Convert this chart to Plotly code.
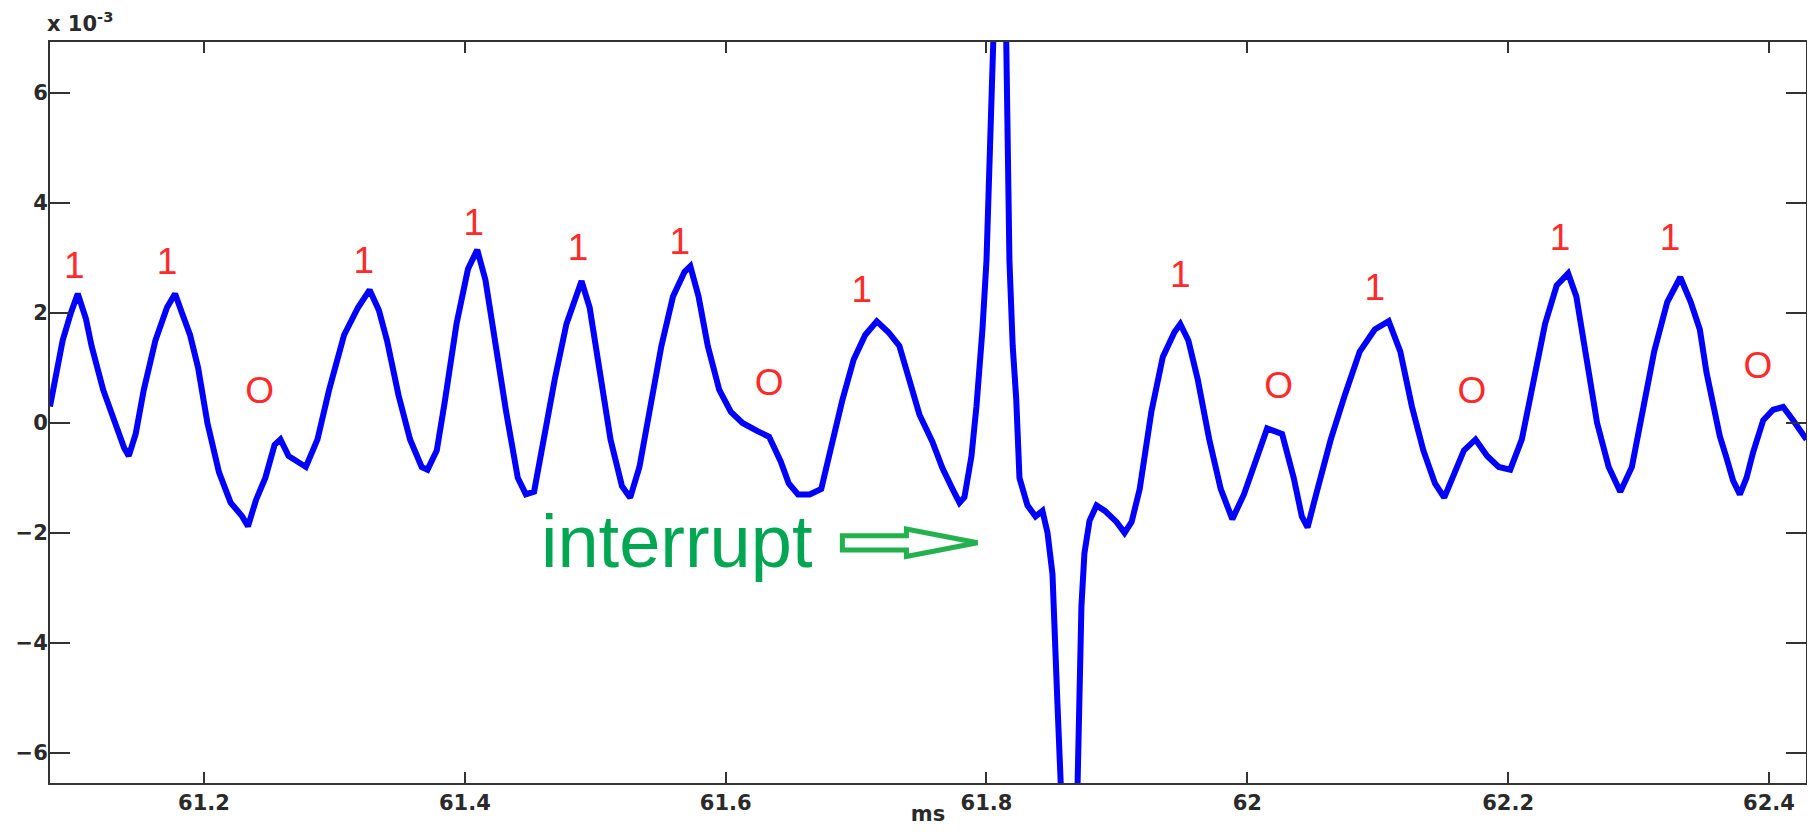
import plotly.graph_objects as go

# ---- data (time in ms, signal in units of 1e-3) ----
time_ms = [
    61.0819, 61.0872, 61.0916, 61.0979, 61.1032, 61.1094, 61.1138, 61.1227, 61.1316, 61.1387,
    61.1423, 61.1476, 61.1538, 61.1627, 61.1716, 61.1778, 61.1831, 61.1893, 61.1955, 61.2026,
    61.2115, 61.2204, 61.2293, 61.2337, 61.2399, 61.2470, 61.2541, 61.2586, 61.2648, 61.2719,
    61.2781, 61.2870, 61.2959, 61.3074, 61.3181, 61.3270, 61.3341, 61.3403, 61.3492, 61.3580,
    61.3669, 61.3714, 61.3785, 61.3847, 61.3936, 61.4024, 61.4095, 61.4158, 61.4229, 61.4317,
    61.4406, 61.4468, 61.4531, 61.4602, 61.4690, 61.4779, 61.4868, 61.4895, 61.4957, 61.5028,
    61.5117, 61.5205, 61.5268, 61.5339, 61.5419, 61.5507, 61.5596, 61.5685, 61.5729, 61.5792,
    61.5863, 61.5951, 61.6040, 61.6129, 61.6244, 61.6333, 61.6422, 61.6484, 61.6555, 61.6644,
    61.6733, 61.6804, 61.6893, 61.6981, 61.7070, 61.7159, 61.7248,
    61.7332, 61.7409, 61.7486, 61.7585, 61.7662, 61.7739, 61.7793, 61.7831, 61.7885, 61.7923,
    61.7946, 61.7969, 61.8000, 61.8023, 61.8046, 61.8092, 61.8145, 61.8155, 61.8176, 61.8201,
    61.8228, 61.8253, 61.8314, 61.8376, 61.8429, 61.8468, 61.8506, 61.8544, 61.8575, 61.8629,
    61.8690, 61.8713, 61.8728, 61.8751, 61.8790, 61.8844,
    61.8908, 61.8997, 61.9059, 61.9113, 61.9175, 61.9264, 61.9352, 61.9441, 61.9486, 61.9548,
    61.9619, 61.9708, 61.9796, 61.9885, 61.9974, 62.0063, 62.0152, 62.0267, 62.0356, 62.0418,
    62.0462, 62.0533, 62.0640, 62.0747, 62.0862, 62.0977, 62.1084, 62.1173, 62.1262, 62.1350,
    62.1439, 62.1510, 62.1572, 62.1661, 62.1750, 62.1839, 62.1928, 62.2016, 62.2105, 62.2194,
    62.2283, 62.2372, 62.2460, 62.2523, 62.2594, 62.2682, 62.2771, 62.2860, 62.2949,
    62.3030, 62.3120, 62.3220, 62.3320, 62.3400,
    62.3470, 62.3521, 62.3572, 62.3623, 62.3674, 62.3725, 62.3777, 62.3828, 62.3879, 62.3956,
    62.4032, 62.4109, 62.4185, 62.4288,
]
signal_e3 = [
    0.3, 1.0, 1.5, 2.0, 2.35, 1.9, 1.4, 0.6, 0.0, -0.45,
    -0.6, -0.2, 0.6, 1.5, 2.1, 2.35, 2.0, 1.6, 1.0, 0.0,
    -0.9, -1.45, -1.7, -1.88, -1.4, -1.0, -0.4, -0.3, -0.6, -0.7,
    -0.8, -0.3, 0.6, 1.6, 2.1, 2.42, 2.05, 1.5, 0.5, -0.3,
    -0.8, -0.85, -0.5, 0.4, 1.8, 2.8, 3.15, 2.6, 1.5, 0.2,
    -1.0, -1.3, -1.25, -0.3, 0.8, 1.8, 2.45, 2.58, 2.1, 1.0,
    -0.3, -1.15, -1.36, -0.8, 0.3, 1.4, 2.3, 2.75, 2.85, 2.3,
    1.4, 0.6, 0.2, 0.0, -0.15, -0.25, -0.7, -1.1, -1.3, -1.3,
    -1.2, -0.5, 0.4, 1.15, 1.6, 1.85, 1.65,
    1.4, 0.73, 0.15, -0.34, -0.82, -1.2, -1.45, -1.35, -0.6, 0.3,
    0.93, 1.7, 2.95, 5.66, 8.0, 10.0, 8.0, 5.66, 2.95, 1.4,
    0.44, -1.0, -1.5, -1.7, -1.6, -2.0, -2.75, -5.1, -7.5, -10.0,
    -7.5, -4.6, -3.33, -2.37, -1.78, -1.5,
    -1.6, -1.8, -2.0, -1.8, -1.2, 0.2, 1.2, 1.65, 1.8, 1.5,
    0.8, -0.3, -1.2, -1.75, -1.3, -0.7, -0.1, -0.2, -1.0, -1.7,
    -1.9, -1.25, -0.3, 0.5, 1.3, 1.7, 1.85, 1.3, 0.3, -0.5,
    -1.1, -1.36, -1.0, -0.5, -0.3, -0.6, -0.8, -0.85, -0.3, 0.8,
    1.8, 2.5, 2.72, 2.3, 1.2, 0.0, -0.8, -1.25, -0.8,
    0.2, 1.3, 2.2, 2.65, 2.2,
    1.70, 0.92, 0.34, -0.24, -0.63, -1.05, -1.3, -1.0, -0.53, 0.05,
    0.24, 0.29, 0.05, -0.3,
]

# bit labels ("1" / "O") placed above/below the waveform
one_x = [61.1005, 61.1716, 61.3225, 61.4069, 61.4868, 61.5649, 61.7044, 61.9486, 62.0977, 62.2398, 62.3242]
one_y = [2.81, 2.87, 2.89, 3.59, 3.14, 3.25, 2.37, 2.64, 2.41, 3.31, 3.31]
zero_x = [61.2426, 61.6333, 62.0240, 62.1723, 62.3915]
zero_y = [0.53, 0.68, 0.62, 0.53, 0.99]

x_ticks = [61.2, 61.4, 61.6, 61.8, 62.0, 62.2, 62.4]
x_tick_text = ["61.2", "61.4", "61.6", "61.8", "62", "62.2", "62.4"]
y_ticks = [-6, -4, -2, 0, 2, 4, 6]

x_range = [61.0819, 62.4284]
y_range = [-6.55, 6.93]

interrupt_label = "interrupt"
interrupt_pos = (61.5630, -2.16)
arrow_x = [61.6895, 61.7386, 61.7931]   # tail, head base, tip
arrow_y = -2.18

AXIS_FONT = dict(family="DejaVu Sans, Verdana, sans-serif", size=21, color="#2a2a2a", weight="bold")
RED_FONT = dict(family="Liberation Sans, Arial, sans-serif", size=37, color="#ff2a2a")

fig = go.Figure()
fig.add_trace(go.Scatter(
    x=time_ms, y=signal_e3, mode="lines",
    line=dict(color="#0000ff", width=6), hoverinfo="skip", showlegend=False,
))
fig.add_trace(go.Scatter(
    x=one_x, y=one_y, mode="text", text=["1"] * len(one_x), textfont=RED_FONT,
    showlegend=False, hoverinfo="skip",
))
fig.add_trace(go.Scatter(
    x=zero_x, y=zero_y, mode="text", text=["O"] * len(zero_x), textfont=RED_FONT,
    showlegend=False, hoverinfo="skip",
))

# interrupt annotation text
fig.add_annotation(
    x=interrupt_pos[0], y=interrupt_pos[1], xref="x", yref="y",
    text=interrupt_label, showarrow=False, xanchor="center", yanchor="middle",
    font=dict(family="Liberation Sans, Arial, sans-serif", size=74, color="#00a651"),
)

# hollow block arrow
xt, xb, xp = arrow_x
sh, hh = 0.13, 0.25
path = (f"M {xt},{arrow_y + sh} L {xb},{arrow_y + sh} L {xb},{arrow_y + hh} "
        f"L {xp},{arrow_y} L {xb},{arrow_y - hh} L {xb},{arrow_y - sh} L {xt},{arrow_y - sh} Z")
fig.add_shape(type="path", path=path, xref="x", yref="y",
              line=dict(color="#22b14c", width=5), fillcolor="white", layer="above")

# exponent label
fig.add_annotation(
    x=-0.003, y=1.0, xref="paper", yref="paper", xanchor="left", yanchor="bottom",
    text="x 10<sup>-3</sup>", showarrow=False, yshift=4, font=AXIS_FONT,
)

fig.update_xaxes(
    range=x_range, tickvals=x_ticks, ticktext=x_tick_text,
    ticks="inside", ticklen=11, tickwidth=2, tickcolor="#333",
    showline=True, linecolor="#333", linewidth=2, mirror="ticks",
    showgrid=False, zeroline=False, tickfont=AXIS_FONT, automargin=False,
    title=dict(text="ms", font=AXIS_FONT, standoff=5),
)
fig.update_yaxes(
    range=y_range, tickvals=y_ticks, automargin=False,
    ticks="inside", ticklen=20, tickwidth=2, tickcolor="#333",
    showline=True, linecolor="#333", linewidth=2, mirror="ticks",
    showgrid=False, zeroline=False, tickfont=AXIS_FONT, ticklabelstandoff=-4,
)
# the page body adds an 8px margin, so the figure is 16px smaller than the window
fig.update_layout(
    width=1799, height=818,
    margin=dict(l=42, r=1, t=34, b=43),
    paper_bgcolor="white", plot_bgcolor="white",
    showlegend=False,
)

fig.write_html("out.html")
